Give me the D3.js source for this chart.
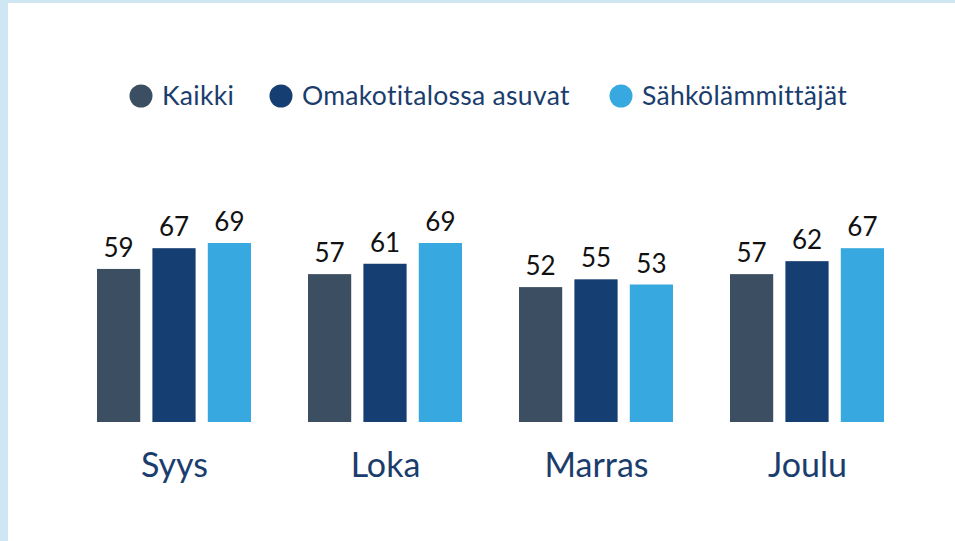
<!DOCTYPE html>
<html><head><meta charset="utf-8">
<script src="https://cdn.jsdelivr.net/npm/d3@7/dist/d3.min.js"></script>
<style>body{margin:0;background:#fff;}svg{display:block;}</style>
</head><body><svg id="c" width="955" height="541"></svg>
<script>
const categories = ["Syys", "Loka", "Marras", "Joulu"];
const seriesNames = ["Kaikki", "Omakotitalossa asuvat", "Sähkölämmittäjät"];
const kaikki = [59, 57, 52, 57];
const omakoti = [67, 61, 55, 62];
const sahko = [69, 69, 53, 67];
const colors = ["#3c4e61", "#153f73", "#38a8e0"];

const seriesValues = [kaikki, omakoti, sahko];
const svg = d3.select("#c");
const W = 955, H = 541;
// frame
svg.append("rect").attr("x",0).attr("y",0).attr("width",W).attr("height",H).attr("fill","#cfe7f3");
svg.append("rect").attr("x",8).attr("y",3).attr("width",W-8).attr("height",H-3).attr("fill","#ffffff");

const x0 = d3.scaleBand().domain(categories).range([68, 912]).paddingInner(0).paddingOuter(0);
const x1 = d3.scaleBand().domain(seriesNames).range([29, 183]).paddingInner(0.22).paddingOuter(0);
const y = d3.scaleLinear().domain([0, 69]).range([422, 243]);

const textColor = "#1b3d6d";
const g = svg.append("g");
categories.forEach((cat, ci) => {
  const gg = g.append("g").attr("transform", `translate(${x0(cat)},0)`);
  seriesNames.forEach((s, si) => {
    const v = seriesValues[si][ci];
    gg.append("rect").attr("x", x1(s)).attr("y", y(v)).attr("width", x1.bandwidth())
      .attr("height", y(0) - y(v)).attr("fill", colors[si]);
    gg.append("text").attr("x", x1(s) + x1.bandwidth()/2).attr("y", y(v) - 12)
      .attr("text-anchor","middle").attr("font-family","Lato, 'Open Sans', sans-serif")
      .attr("font-size", 26).attr("fill","#111").text(v);
  });
  gg.append("text").attr("x", x0.bandwidth()/2 + 1).attr("y", 477).attr("text-anchor","middle")
    .attr("font-family","Lato, sans-serif").attr("font-size", 34).attr("fill", textColor).text(cat);
});

// legend
const legendX = [141, 281, 621];
seriesNames.forEach((s, i) => {
  svg.append("circle").attr("cx", legendX[i]).attr("cy", 96).attr("r", 11.5).attr("fill", colors[i]);
  svg.append("text").attr("x", legendX[i] + 21).attr("y", 105).attr("font-family","Lato, sans-serif")
    .attr("font-size", 26.5).attr("letter-spacing", 0.3).attr("fill", textColor).text(s);
});
</script></body></html>
